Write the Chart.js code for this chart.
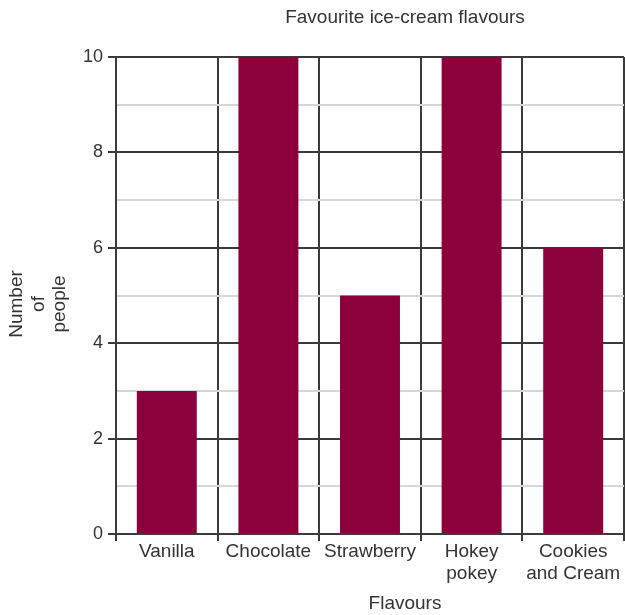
<!DOCTYPE html>
<html>
<head>
<meta charset="utf-8">
<script src="https://cdn.jsdelivr.net/npm/chart.js@4"></script>
<style>
  html, body { margin: 0; padding: 0; background: #ffffff; }
  #wrap { width: 625px; height: 615px; position: relative; }
</style>
</head>
<body>
<div id="wrap"><canvas id="chart"></canvas></div>
<script>
// Survey results: favourite ice-cream flavours
const flavours = ['Vanilla', 'Chocolate', 'Strawberry', ['Hokey', 'pokey'], ['Cookies', 'and Cream']];
const people = [3, 10, 5, 10, 6];
const yTickLabels = [0, 2, 4, 6, 8, 10];
const chartTitle = 'Favourite ice-cream flavours';
const xTitle = 'Flavours';
const yTitle = ['Number', 'of', 'people'];

const barColor = '#8c003b';
const darkLine = '#3a3a3a';
const lightLine = '#d6d6d6';
const textColor = '#333333';
const fontFamily = '"Liberation Sans", Arial, Helvetica, sans-serif';
const fontSize = 18;
const labelSize = 19;

// Chart and axis titles, placed around the plot
const titlesPlugin = {
  id: 'titles',
  afterDraw(chart) {
    const ctx = chart.ctx;
    ctx.save();
    ctx.fillStyle = textColor;
    ctx.font = labelSize + 'px ' + fontFamily;
    ctx.textAlign = 'center';
    ctx.textBaseline = 'middle';
    const cx = 405;
    ctx.fillText(chartTitle, cx, 18);
    ctx.fillText(xTitle, cx, 604);
    ctx.translate(0, 304);
    ctx.rotate(-Math.PI / 2);
    yTitle.forEach((line, i) => ctx.fillText(line, 0, 17 + i * 21.5));
    ctx.restore();
  }
};

const isMajor = v => yTickLabels.includes(v);

new Chart(document.getElementById('chart'), {
  type: 'bar',
  data: {
    labels: flavours,
    datasets: [{
      data: people,
      backgroundColor: barColor,
      borderWidth: 0,
      barPercentage: 0.59,
      categoryPercentage: 1.0
    }]
  },
  options: {
    responsive: true,
    maintainAspectRatio: false,
    animation: false,
    layout: { padding: { top: 57, right: 1, left: 0, bottom: 0 } },
    plugins: {
      legend: { display: false },
      title: { display: false },
      tooltip: { enabled: false }
    },
    scales: {
      x: {
        offset: true,
        grid: {
          offset: true,
          color: darkLine,
          lineWidth: 2,
          drawTicks: true,
          tickLength: 7,
          tickColor: darkLine
        },
        border: { display: true, color: darkLine, width: 2 },
        ticks: {
          color: textColor,
          padding: 0,
          maxRotation: 0,
          autoSkip: false,
          font: { family: fontFamily, size: labelSize, lineHeight: 1.15 }
        },
        afterFit(scale) { scale.height = 81; }
      },
      y: {
        min: 0,
        max: 10,
        grid: {
          color: ctx => isMajor(ctx.tick.value) ? darkLine : lightLine,
          lineWidth: 2,
          drawTicks: true,
          tickLength: 8,
          tickColor: ctx => isMajor(ctx.tick.value) ? darkLine : 'rgba(0,0,0,0)'
        },
        border: { display: true, color: darkLine, width: 2 },
        ticks: {
          stepSize: 1,
          color: textColor,
          padding: 5,
          font: { family: fontFamily, size: fontSize },
          callback: v => isMajor(v) ? String(v) : ''
        },
        afterFit(scale) { scale.width = 116; }
      }
    }
  },
  plugins: [titlesPlugin]
});
</script>
</body>
</html>
